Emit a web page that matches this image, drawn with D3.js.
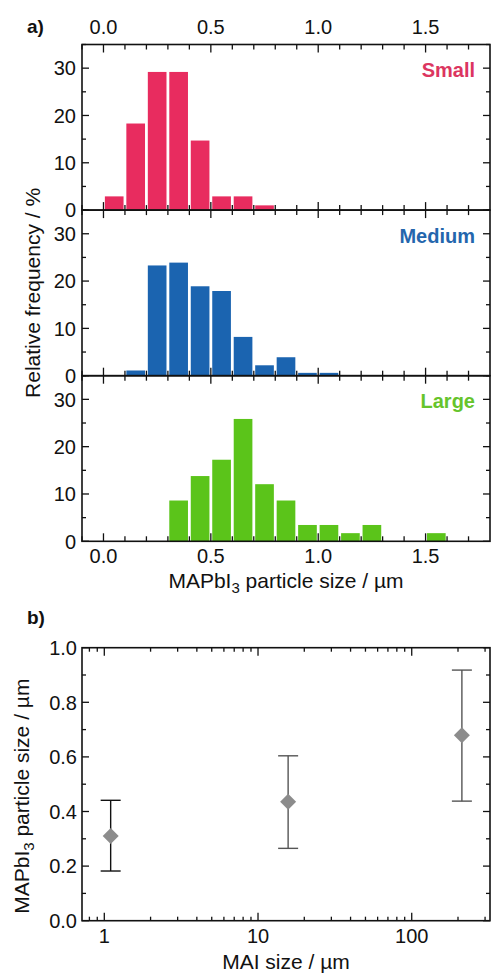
<!DOCTYPE html>
<html>
<head>
<meta charset="utf-8">
<script src="https://cdn.jsdelivr.net/npm/d3@7"></script>
<style>
  html, body { margin: 0; padding: 0; background: #fff; }
  svg { display: block; }
  text { font-family: "Liberation Sans", Arial, sans-serif; fill: #111; }
</style>
</head>
<body>
<svg id="chart" width="491" height="973"></svg>
<script>
// ---- (a) particle-size histograms, bin width 0.1 µm ----
const binStarts = [0.0, 0.1, 0.2, 0.3, 0.4, 0.5, 0.6, 0.7, 0.8, 0.9, 1.0, 1.1, 1.2, 1.3, 1.4, 1.5];
const binWidth = 0.1;
const smallFreq  = [2.9, 18.3, 29.2, 29.2, 14.7, 2.9, 2.9, 1.0, 0, 0, 0, 0, 0, 0, 0, 0];
const mediumFreq = [0, 1.1, 23.3, 23.9, 18.9, 17.9, 8.2, 2.2, 3.9, 0.6, 0.6, 0, 0, 0, 0, 0];
const largeFreq  = [0, 0, 0, 8.62, 13.79, 17.24, 25.86, 12.07, 8.62, 3.45, 3.45, 1.72, 3.45, 0, 0, 1.72];
const seriesNames = ["Small", "Medium", "Large"];
const seriesColors = ["#e82c5f", "#1b64b0", "#5bc41a"];
const labelColors = ["#dc3560", "#2466ad", "#66c42c"];
const sizeTicks = [0.0, 0.5, 1.0, 1.5];
const freqTicks = [0, 10, 20, 30];

// ---- (b) mean MAPbI3 particle size vs. MAI size ----
const maiSize = [1.1, 15.7, 212];
const particleMean = [0.31, 0.436, 0.679];
const particleLow  = [0.182, 0.265, 0.438];
const particleHigh = [0.441, 0.604, 0.918];
const maiTicks = [1, 10, 100];
const meanTicks = [0.0, 0.2, 0.4, 0.6, 0.8, 1.0];

const svg = d3.select("#chart");
const FONT = 20;
const left = 82, right = 490;

// helper: inward ticks on all four sides of a frame
function frameTicks(g, xs, ys, x0, x1, y0, y1, majorX, minorX, majorY, minorY, lx, sx, ly, sy) {
  const line = (a, b, c, d) => g.append("line").attr("x1", a).attr("y1", b).attr("x2", c).attr("y2", d)
    .attr("stroke", "#111").attr("stroke-width", 1.3);
  majorX.forEach(v => { const p = xs(v); line(p, y1, p, y1 - lx); line(p, y0, p, y0 + lx); });
  minorX.forEach(v => { const p = xs(v); line(p, y1, p, y1 - sx); line(p, y0, p, y0 + sx); });
  majorY.forEach(v => { const p = ys(v); line(x0, p, x0 + ly, p); line(x1, p, x1 - ly, p); });
  minorY.forEach(v => { const p = ys(v); line(x0, p, x0 + sy, p); line(x1, p, x1 - sy, p); });
  g.append("rect").attr("x", x0).attr("y", y0).attr("width", x1 - x0).attr("height", y1 - y0)
    .attr("fill", "none").attr("stroke", "#111").attr("stroke-width", 1.6);
}

// ===== panel (a) =====
const xA = d3.scaleLinear().domain([-0.1, 1.8]).range([left, right]);
const panelTop = 44.5, panelH = 165.6;
const allFreq = [smallFreq, mediumFreq, largeFreq];
const minorSize = d3.range(-1, 18).map(i => i / 10).filter(v => !sizeTicks.some(t => Math.abs(t - v) < 1e-9));
const minorFreq = [5, 15, 25, 35];

allFreq.forEach((freq, si) => {
  const top = panelTop + si * panelH, bottom = top + panelH;
  const y = d3.scaleLinear().domain([0, 35]).range([bottom, top]);
  const g = svg.append("g");
  const bins = binStarts.map((b, i) => ({ b, v: freq[i] })).filter(d => d.v > 0);
  g.selectAll("rect.bar").data(bins).join("rect").attr("class", "bar")
    .attr("x", d => xA(d.b) + 1.4)
    .attr("width", d => xA(d.b + binWidth) - xA(d.b) - 2.8)
    .attr("y", d => y(d.v))
    .attr("height", d => y(0) - y(d.v))
    .attr("fill", seriesColors[si]);
  frameTicks(g, xA, y, left, right, top, bottom, sizeTicks, minorSize, freqTicks, minorFreq, 8, 5, 7, 4);
  g.selectAll("text.yt").data(freqTicks).join("text").attr("class", "yt")
    .attr("x", left - 6).attr("y", d => y(d)).attr("dy", "0.36em")
    .attr("text-anchor", "end").attr("font-size", FONT).text(d => d);
  g.append("text").attr("x", 475).attr("y", top + 32.5).attr("text-anchor", "end")
    .attr("font-size", 20).attr("font-weight", "bold").style("fill", labelColors[si])
    .text(seriesNames[si]);
});

const fmt1 = d3.format(".1f");
// top and bottom size labels
svg.selectAll("text.xtTop").data(sizeTicks).join("text").attr("class", "xtTop")
  .attr("x", d => xA(d)).attr("y", 34).attr("text-anchor", "middle").attr("font-size", FONT).text(fmt1);
const aBottom = panelTop + 3 * panelH;
svg.selectAll("text.xtBot").data(sizeTicks).join("text").attr("class", "xtBot")
  .attr("x", d => xA(d)).attr("y", aBottom + 22).attr("text-anchor", "middle").attr("font-size", FONT).text(fmt1);

// axis titles for (a)
const tA = svg.append("text").attr("x", (left + right) / 2).attr("y", 588)
  .attr("text-anchor", "middle").attr("font-size", 21);
tA.append("tspan").text("MAPbI");
tA.append("tspan").attr("font-size", 15).attr("dy", 5).text("3");
tA.append("tspan").attr("dy", -5).text(" particle size / µm");

svg.append("text").attr("transform", `translate(40,${panelTop + 1.5 * panelH}) rotate(-90)`)
  .attr("text-anchor", "middle").attr("font-size", 21).text("Relative frequency / %");

svg.append("text").attr("x", 27).attr("y", 33).attr("font-size", 19).attr("font-weight", "bold").text("a)");

// ===== panel (b) =====
const bTop = 647.7, bBottom = 920.7;
const xB = d3.scaleLog().domain([0.716, 323]).range([left, right]);
const yB = d3.scaleLinear().domain([0, 1]).range([bBottom, bTop]);
const gB = svg.append("g");
const minorMai = [0.8, 0.9, 2, 3, 4, 5, 6, 7, 8, 9, 20, 30, 40, 50, 60, 70, 80, 90, 200, 300];
const minorMean = [0.1, 0.3, 0.5, 0.7, 0.9];
frameTicks(gB, xB, yB, left, right, bTop, bBottom, maiTicks, minorMai, meanTicks, minorMean, 8, 4, 7, 4);

const pts = maiSize.map((m, i) => ({ m, v: particleMean[i], lo: particleLow[i], hi: particleHigh[i], i }));
const barColors = ["#111", "#555", "#555"];
const eb = gB.selectAll("g.eb").data(pts).join("g").attr("class", "eb")
  .attr("stroke", d => barColors[d.i]).attr("stroke-width", 1.4);
eb.append("line").attr("x1", d => xB(d.m)).attr("x2", d => xB(d.m))
  .attr("y1", d => yB(d.lo)).attr("y2", d => yB(d.hi));
eb.append("line").attr("x1", d => xB(d.m) - 10).attr("x2", d => xB(d.m) + 10)
  .attr("y1", d => yB(d.lo)).attr("y2", d => yB(d.lo));
eb.append("line").attr("x1", d => xB(d.m) - 10).attr("x2", d => xB(d.m) + 10)
  .attr("y1", d => yB(d.hi)).attr("y2", d => yB(d.hi));
gB.selectAll("path.pt").data(pts).join("path").attr("class", "pt")
  .attr("d", d => { const cx = xB(d.m), cy = yB(d.v), r = 8; return `M${cx},${cy - r}L${cx + r},${cy}L${cx},${cy + r}L${cx - r},${cy}Z`; })
  .attr("fill", "#8c8c8c");

gB.selectAll("text.yt").data(meanTicks).join("text").attr("class", "yt")
  .attr("x", left - 5).attr("y", d => yB(d)).attr("dy", "0.36em")
  .attr("text-anchor", "end").attr("font-size", FONT).text(fmt1);
gB.selectAll("text.xt").data(maiTicks).join("text").attr("class", "xt")
  .attr("x", d => xB(d)).attr("y", bBottom + 22).attr("text-anchor", "middle").attr("font-size", FONT).text(d => d);

svg.append("text").attr("x", (left + right) / 2).attr("y", 969).attr("text-anchor", "middle")
  .attr("font-size", 21).text("MAI size / µm");
const tB = svg.append("text").attr("transform", `translate(29,${(bTop + bBottom) / 2 + 12}) rotate(-90)`)
  .attr("text-anchor", "middle").attr("font-size", 21);
tB.append("tspan").text("MAPbI");
tB.append("tspan").attr("font-size", 15).attr("dy", 5).text("3");
tB.append("tspan").attr("dy", -5).text(" particle size / µm");

svg.append("text").attr("x", 27).attr("y", 624).attr("font-size", 19).attr("font-weight", "bold").text("b)");
</script>
</body>
</html>
